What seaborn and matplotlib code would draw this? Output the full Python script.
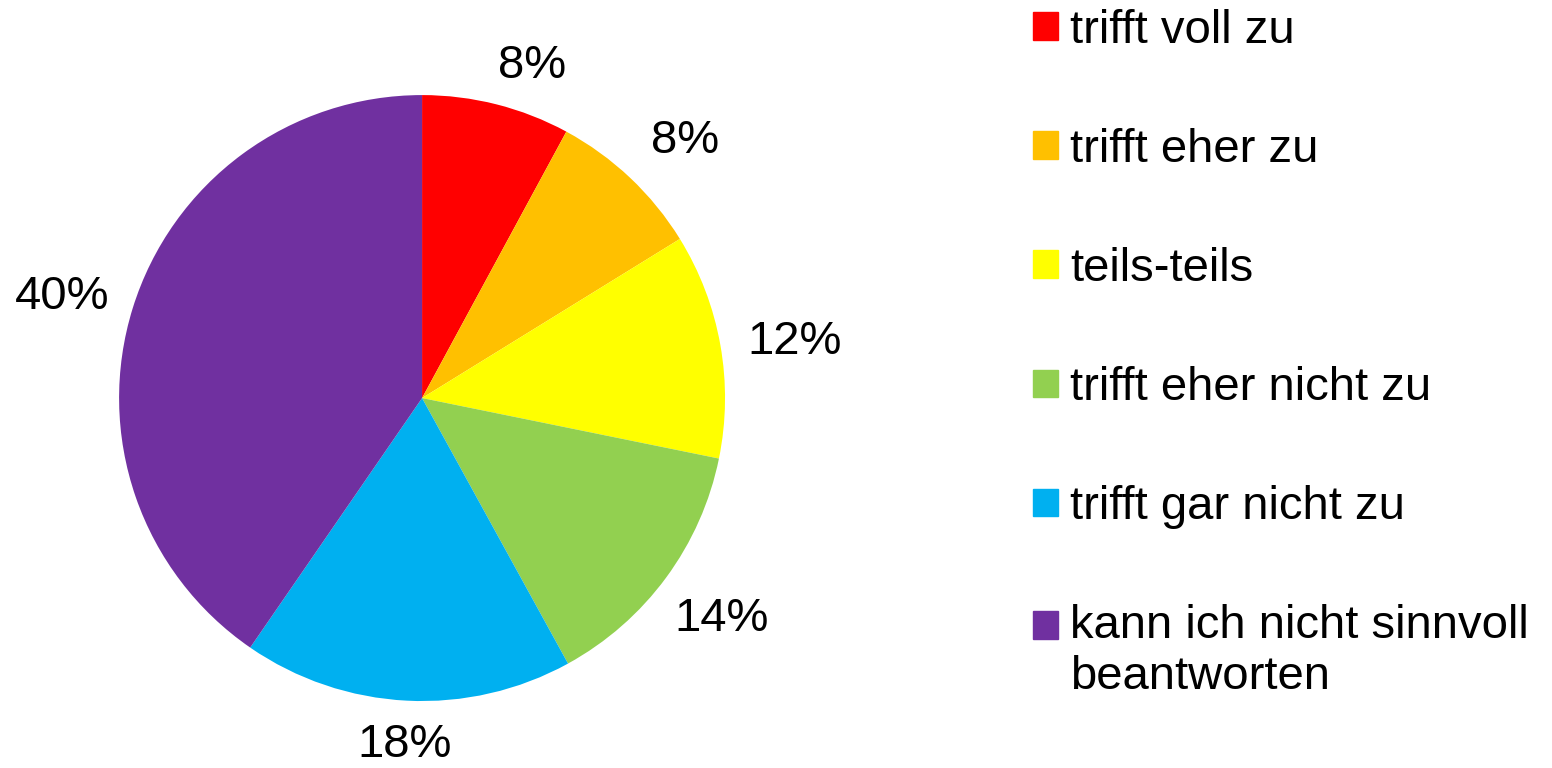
import matplotlib
matplotlib.use("Agg")
import numpy as np
import matplotlib.pyplot as plt
import matplotlib.patches as mpatches
from matplotlib.legend_handler import HandlerPatch
import seaborn as sns

# survey answers and their shares (percent)
categories = ['trifft voll zu', 'trifft eher zu', 'teils-teils',
              'trifft eher nicht zu', 'trifft gar nicht zu',
              'kann ich nicht sinnvoll\nbeantworten']
shares = [7.9, 8.3, 12.0, 13.8, 17.6, 40.4]
colors = ['#FF0000', '#FFC000', '#FFFF00', '#92D050', '#00B0F0', '#7030A0']

sns.set_theme(style="white")
plt.rcParams['font.family'] = ['Liberation Sans', 'DejaVu Sans']

fig = plt.figure(figsize=(15.52, 7.68), dpi=100)
ax = fig.add_axes([0.0767, 0.0872, 0.3905, 0.789])

wedges, _, pcts = ax.pie(shares, colors=colors, startangle=90, counterclock=False,
                         autopct='%1.0f%%', pctdistance=1.2,
                         textprops={'fontsize': 34, 'color': 'black'},
                         wedgeprops={'linewidth': 0})
# place labels outside the slices, a bit further out at the sides
for w, t in zip(wedges, pcts):
    a = np.deg2rad((w.theta1 + w.theta2) / 2)
    r = 1.14 + 0.11 * abs(np.cos(a))
    s = max(np.sin(a), 0)
    t.set_position((r * np.cos(a) + 0.085 * s ** 3,
                    r * np.sin(a) - (0.035 if s > 0 else 0)))
ax.set_xlim(-1, 1)
ax.set_ylim(-1, 1)
ax.set_aspect('equal')


# square marker next to the first line of a (possibly two-line) label
def top_square(legend, orig_handle, xdescent, ydescent, width, height, fontsize):
    lines = orig_handle.get_label().count('\n')
    shift = lines * 0.57 * fontsize
    return mpatches.Rectangle((-xdescent, -ydescent + shift), width, height)


handles = [mpatches.Patch(color=c, label=l) for c, l in zip(colors, categories)]
leg = fig.legend(handles=handles, loc='upper left', bbox_to_anchor=(0.6534, 1.013),
                 frameon=False, fontsize=34, handlelength=0.53, handleheight=0.53,
                 handletextpad=0.25, labelspacing=1.59, borderaxespad=0,
                 handler_map={mpatches.Patch: HandlerPatch(patch_func=top_square)})
for t in leg.get_texts():
    t.set_color('black')

fig.savefig('out.png', dpi=100)
